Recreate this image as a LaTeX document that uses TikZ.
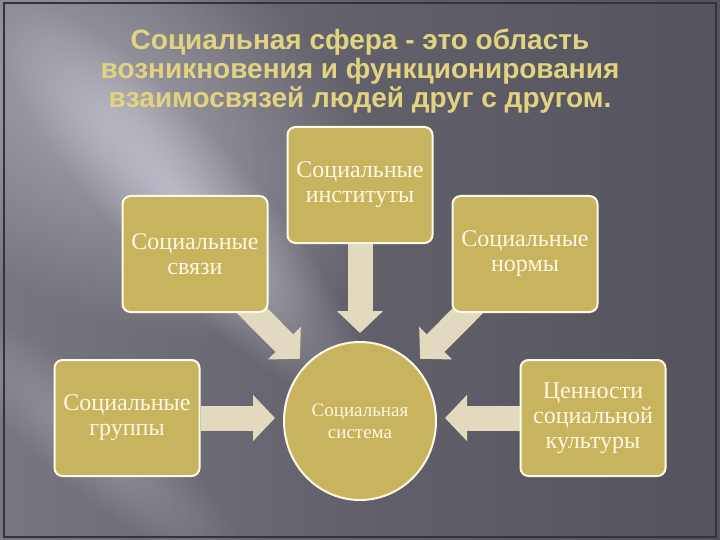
\documentclass[tikz,border=0pt]{standalone}
\usepackage{fontspec}
\setmainfont{Liberation Serif}
\newfontfamily\titlefont{Liberation Sans}
\usetikzlibrary{calc,shapes.geometric,arrows.meta,fadings}

\definecolor{bgleft}{RGB}{120,118,128}
\definecolor{bgmid}{RGB}{98,96,106}
\definecolor{bgright}{RGB}{84,82,92}
\definecolor{glowcol}{RGB}{205,203,215}
\definecolor{framecol}{RGB}{52,50,58}
\definecolor{boxfill}{RGB}{200,180,95}
\definecolor{boxline}{RGB}{255,250,232}
\definecolor{boxtext}{RGB}{255,247,222}
\definecolor{arrowfill}{RGB}{226,218,190}
\definecolor{titlecol}{RGB}{226,211,128}

\tikzfading[name=glow, inner color=transparent!0, outer color=transparent!100]

\pgfdeclarelayer{bg}
\pgfdeclarelayer{arrowlayer}
\pgfsetlayers{bg,arrowlayer,main}

\tikzset{
  part/.style={rectangle, rounded corners=8pt, draw=boxline, line width=2pt,
    fill=boxfill, text=boxtext, minimum width=145pt, minimum height=116pt,
    align=center, font=\fontsize{24}{25}\selectfont},
  core/.style={ellipse, draw=boxline, line width=2pt, fill=boxfill,
    text=boxtext, minimum width=152pt, minimum height=158pt, inner sep=0pt,
    align=center, font=\fontsize{19}{22}\selectfont},
  flow/.style={draw=arrowfill, line width=25pt,
    -{Triangle[length=22pt,width=45pt]}}
}

\begin{document}
\begin{tikzpicture}
    [line join=round,x={(1pt,0pt)},y={(0pt,-1pt)}]
    \useasboundingbox (0,0) rectangle (720,540);

    \node[font=\titlefont\bfseries\fontsize{28}{29}\selectfont, text=titlecol,
      align=center] (title) at (360,71)
      {Социальная сфера - это область\\возникновения и функционирования\\взаимосвязей людей друг с другом.};

    \node[part] (inst)     at (360,185) {Социальные\\институты};
    \node[part] (svyazi)   at (195,254) {Социальные\\связи};
    \node[part] (normy)    at (525,254) {Социальные\\нормы};
    \node[part] (gruppy)   at (127,418) {Социальные\\группы};
    \node[part] (cennosti) at (593,418) {Ценности\\социальной\\культуры};
    \node[core] (sistema)  at (360,421) {Социальная\\система};

    \begin{pgfonlayer}{arrowlayer}
      \draw[flow, shorten >=8pt] (inst.south) -- (sistema.north);
      \draw[flow, shorten >=8pt] (gruppy.east) -- (gruppy.east -| sistema.west);
      \draw[flow, shorten >=8pt] (cennosti.west) -- (cennosti.west -| sistema.east);
      \draw[flow, shorten >=8pt] ($(svyazi.south east)+(-26,-12)$) -- (sistema.north west);
      \draw[flow, shorten >=8pt] ($(normy.south west)+(26,-12)$) -- (sistema.north east);
    \end{pgfonlayer}

    % slide background with light streaks
    \begin{pgfonlayer}{bg}
      \shade[left color=bgleft, right color=bgright, middle color=bgmid] (0,0) rectangle (720,540);
      \begin{scope}
        \clip (0,0) rectangle (720,540);
        \begin{scope}[transform canvas={shift={(110,120)}, rotate=-30}]
          \fill[glowcol, path fading=glow, fill opacity=0.55] (0,0) ellipse [x radius=300, y radius=190];
        \end{scope}
        \begin{scope}[transform canvas={shift={(180,200)}, rotate=-48}]
          \fill[glowcol, path fading=glow, fill opacity=0.75] (0,0) ellipse [x radius=270, y radius=70];
        \end{scope}
        \begin{scope}[transform canvas={shift={(90,440)}, rotate=-40}]
          \fill[glowcol, path fading=glow, fill opacity=0.35] (0,0) ellipse [x radius=200, y radius=50];
        \end{scope}
      \end{scope}
      \draw[framecol, line width=1.5pt] (4,3) rectangle (716,537);
    \end{pgfonlayer}
  \end{tikzpicture}
\end{document}
